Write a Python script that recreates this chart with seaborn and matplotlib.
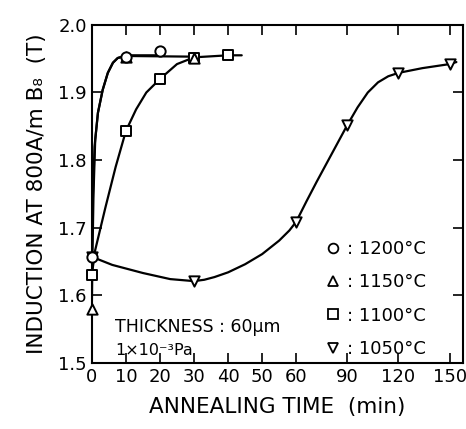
import numpy as np
import pandas as pd
import matplotlib
matplotlib.use("Agg")
import matplotlib.pyplot as plt
from matplotlib.lines import Line2D
import seaborn as sns

# measured points (annealing time in min, induction B8 in T)
t1200 = [0, 10, 20]
b1200 = [1.657, 1.953, 1.962]
t1150 = [0, 10, 30]
b1150 = [1.58, 1.953, 1.951]
t1100 = [0, 10, 20, 30, 40]
b1100 = [1.63, 1.843, 1.92, 1.951, 1.955]
t1050 = [0, 30, 60, 90, 120, 150]
b1050 = [1.657, 1.621, 1.709, 1.852, 1.929, 1.942]

# hand-drawn curves
c1200_t = [0, 0.3, 0.8, 1.8, 3.2, 4.7, 6.2, 7.6, 10, 20]
c1200_b = [1.657, 1.74, 1.82, 1.87, 1.904, 1.929, 1.944, 1.951, 1.955, 1.955]
c1150_t = [0, 0.2, 0.5, 1.0, 1.8, 3.2, 4.7, 6.2, 7.6, 10, 30]
c1150_b = [1.58, 1.66, 1.75, 1.83, 1.87, 1.904, 1.929, 1.944, 1.951, 1.954, 1.953]
c1100_t = [0, 1, 4, 7, 10, 13, 16, 20, 25, 30, 40, 44]
c1100_b = [1.63, 1.667, 1.73, 1.79, 1.843, 1.875, 1.90, 1.92, 1.942, 1.952, 1.955, 1.955]
c1050_t = [0, 6, 15, 23, 30, 33, 36, 40, 45, 50, 55, 58, 60, 66, 72, 78, 84, 90,
           96, 102, 108, 114, 120, 134, 150, 154]
c1050_b = [1.657, 1.645, 1.633, 1.624, 1.621, 1.623, 1.627, 1.634, 1.646, 1.661, 1.681,
           1.696, 1.709, 1.739, 1.768, 1.796, 1.824, 1.852, 1.878, 1.900, 1.915, 1.924,
           1.929, 1.936, 1.942, 1.945]

labels = [": 1200°C", ": 1150°C", ": 1100°C", ": 1050°C"]
xticks = [0, 10, 20, 30, 40, 50, 60, 90, 120, 150]


def fwd(x):
    x = np.asarray(x, dtype=float)
    return np.where(x <= 60, x, 60 + (x - 60) / 2)


def inv(x):
    x = np.asarray(x, dtype=float)
    return np.where(x <= 60, x, 60 + (x - 60) * 2)


sns.set_style("ticks")
plt.rcParams["font.family"] = ["DejaVu Sans"]
plt.rcParams["text.color"] = "black"
plt.rcParams["axes.labelcolor"] = "black"

fig = plt.figure(figsize=(4.66, 4.29), dpi=100)
ax = fig.add_axes([0.197, 0.154, 0.797, 0.788])
ax.set_xscale("function", functions=(fwd, inv))

curves = [(c1200_t, c1200_b), (c1150_t, c1150_b), (c1100_t, c1100_b), (c1050_t, c1050_b)]
for ct, cb in curves:
    sns.lineplot(x=ct, y=cb, ax=ax, color="black", lw=1.6, sort=False,
                 estimator=None, zorder=2)

pts = [(t1050, b1050, "v"), (t1100, b1100, "s"), (t1150, b1150, "^"), (t1200, b1200, "o")]
for tt, bb, m in pts:
    sns.scatterplot(x=tt, y=bb, ax=ax, marker=m, s=55, facecolor="white",
                    edgecolor="black", linewidth=1.4, zorder=3, clip_on=False)

ax.set_xlim(0, 158)
ax.set_ylim(1.5, 2.0)
ax.set_xticks(xticks)
ax.set_xticklabels([str(v) for v in xticks])
ax.xaxis.set_minor_locator(plt.NullLocator())
ax.set_yticks([1.5, 1.6, 1.7, 1.8, 1.9, 2.0])
ax.set_yticklabels(["1.5", "1.6", "1.7", "1.8", "1.9", "2.0"])
ax.tick_params(direction="in", length=7, width=1.2, top=True, right=True,
               labelsize=13, colors="black")
for sp in ax.spines.values():
    sp.set_visible(True)
    sp.set_linewidth(1.5)
    sp.set_color("black")

ax.set_xlabel("ANNEALING TIME  (min)", fontsize=15.5, labelpad=8, color="black")
ax.set_ylabel("INDUCTION AT 800A/m B₈  (T)", fontsize=15.5, labelpad=8, color="black")

ax.text(0.062, 0.107, "THICKNESS : 60μm", transform=ax.transAxes,
        fontsize=12.5, va="center", ha="left", color="black")
ax.text(0.062, 0.038, "1×10⁻³Pa", transform=ax.transAxes,
        fontsize=11.5, va="center", ha="left", color="black")

handles = [Line2D([], [], ls="none", marker=m, ms=7, mfc="white", mec="black", mew=1.3)
           for m in ["o", "^", "s", "v"]]
leg = ax.legend(handles, labels, loc="upper left", bbox_to_anchor=(0.6, 0.39),
                frameon=False, fontsize=13, handlelength=1.0, handletextpad=0.3,
                labelspacing=0.85, borderpad=0)
for txt in leg.get_texts():
    txt.set_color("black")

fig.savefig("out.png", dpi=100)
